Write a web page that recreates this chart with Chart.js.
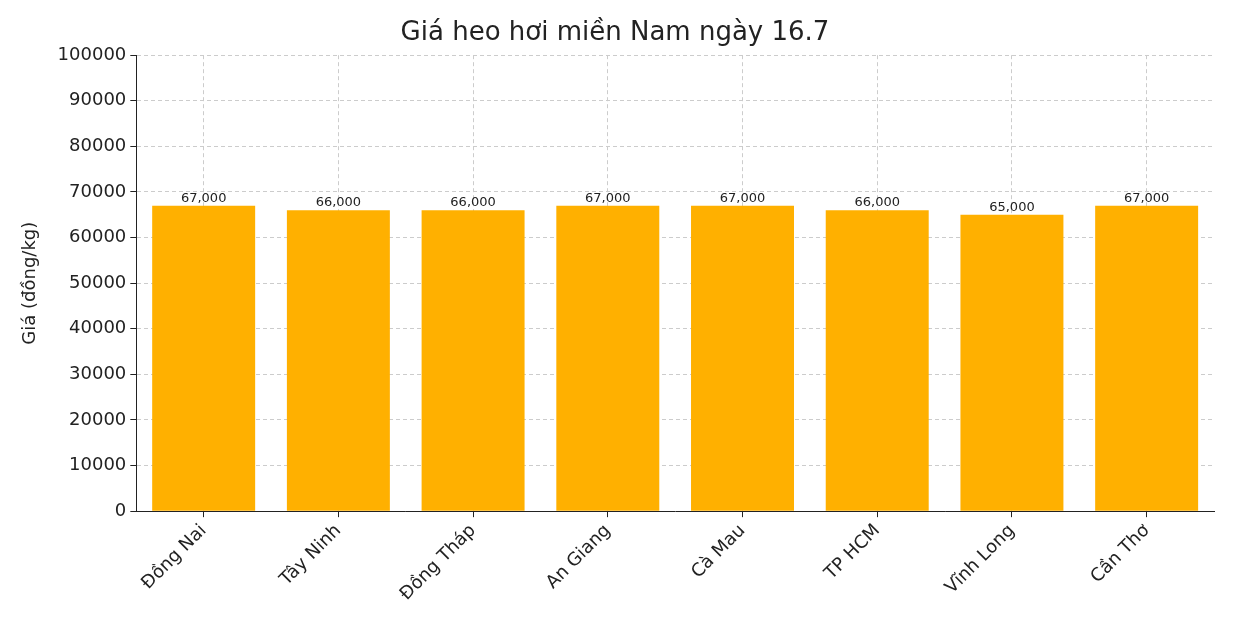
<!DOCTYPE html>
<html>
<head>
<meta charset="utf-8">
<script src="https://cdn.jsdelivr.net/npm/chart.js@4"></script>
<style>
  html, body { margin:0; padding:0; background:#fff; }
  #wrap { width:1260px; height:630px; }
</style>
</head>
<body>
<div id="wrap"><canvas id="chart" width="1260" height="630"></canvas></div>
<script>
// data
const provinces = ["Đồng Nai", "Tây Ninh", "Đồng Tháp", "An Giang", "Cà Mau", "TP HCM", "Vĩnh Long", "Cần Thơ"];
const prices = [67000, 66000, 66000, 67000, 67000, 66000, 65000, 67000];
const chartTitle = "Giá heo hơi miền Nam ngày 16.7";
const yTitle = "Giá (đồng/kg)";

const FONT = "'DejaVu Sans', sans-serif";

// value labels above each bar
const barLabels = {
  id: "barLabels",
  afterDatasetsDraw(chart){
    const ctx = chart.ctx;
    const meta = chart.getDatasetMeta(0);
    ctx.save();
    ctx.font = "13px " + FONT;
    ctx.fillStyle = "#222";
    ctx.textAlign = "center";
    ctx.textBaseline = "bottom";
    meta.data.forEach((bar, i)=>{
      ctx.fillText(prices[i].toLocaleString("en-US"), bar.x, bar.y - 1);
    });
    ctx.restore();
  }
};

new Chart(document.getElementById("chart"), {
  type: "bar",
  data: {
    labels: provinces,
    datasets: [{ data: prices, backgroundColor: "#FFB000", barPercentage: 0.78, categoryPercentage: 0.98 }]
  },
  options: {
    responsive: false,
    animation: false,
    layout: { padding: { left: 16, right: 46, top: 4, bottom: 22 } },
    plugins: {
      legend: { display: false },
      tooltip: { enabled: false },
      title: { display: true, text: chartTitle, color: "#222", font: { family: FONT, size: 26, weight: "normal" }, padding: { top: 14, bottom: 6 } }
    },
    scales: {
      x: {
        grid: { offset: false, color: "#ccc", tickColor: "#222", tickLength: 6 },
        border: { color: "#222", dash: [4, 3] },
        ticks: { color: "#222", font: { family: FONT, size: 18 }, minRotation: 45, maxRotation: 45 }
      },
      y: {
        min: 0, max: 100000,
        grid: { color: "#ccc", tickColor: "#222", tickLength: 6 },
        border: { color: "#222", dash: [4, 3] },
        ticks: { stepSize: 10000, color: "#222", font: { family: FONT, size: 18 }, padding: 4, callback: v => String(v) },
        title: { display: true, text: yTitle, color: "#222", font: { family: FONT, size: 18 }, padding: { bottom: 12 } }
      }
    }
  },
  plugins: [barLabels]
});
</script>
</body>
</html>
